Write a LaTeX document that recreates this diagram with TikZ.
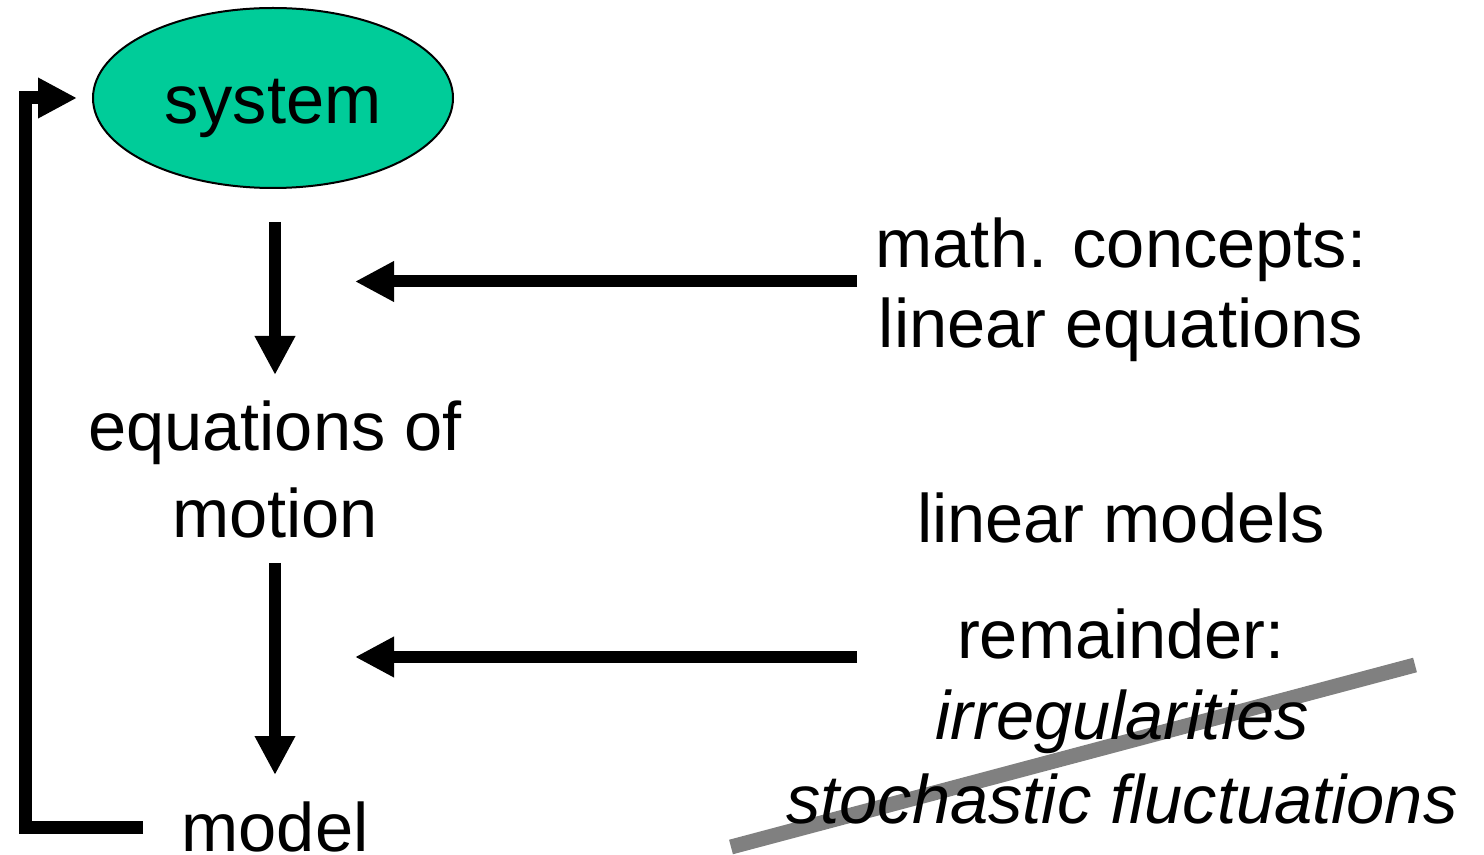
\documentclass[tikz,border=0pt]{standalone}
\usepackage{fontspec}
\setmainfont{Liberation Sans}
\usetikzlibrary{shapes.geometric,arrows.meta}
\definecolor{sysgreen}{RGB}{0,204,153}
\definecolor{strikegray}{RGB}{128,128,128}
\tikzset{
  txt/.style={anchor=base, inner sep=0pt, font=\fontsize{34.3}{40}\selectfont},
  itxt/.style={txt, font=\fontsize{34.3}{40}\selectfont\itshape},
  arr/.style={line width=6pt, -{Triangle[length=19.5pt,width=19pt]}},
  fb/.style={line width=6.5pt, line join=miter, -{Triangle[length=19.5pt,width=19pt]}},
  strike/.style={line width=7.5pt, draw=strikegray}
}
\begin{document}
\begin{tikzpicture}[x=0.5pt,y=-0.5pt]
\useasboundingbox (0,0) rectangle (1484,855);
% strike-through line (behind the texts)
\coordinate (sk1) at (731,847);
\coordinate (sk2) at (1415,665);
\draw[strike] (sk1) -- (sk2);
% system ellipse
\node[ellipse, draw=black, line width=1pt, fill=sysgreen, minimum width=180pt, minimum height=90pt, inner sep=0pt] (sys) at (273,98) {};
\node[txt] (systxt) at (273,124) {system};
% left column texts
\node[txt] (eq1) at (275,451) {equations of};
\node[txt] (eq2) at (275,538) {motion};
\node[txt] (mdl) at (275,851) {model};
% right column texts
\node[txt] (math1) at (1121,268) {math. concepts:};
\node[txt] (math2) at (1121,348) {linear equations};
\node[txt] (lm) at (1121,543) {linear models};
\node[txt] (rem) at (1121,658) {remainder:};
\node[itxt] (irr) at (1122,739) {irregularities};
\node[itxt] (sto) at (1122,823) {stochastic fluctuations};
% arrow coordinates
\coordinate (d1s) at (275,222);
\coordinate (d1e) at (275,375);
\coordinate (d2s) at (275,563);
\coordinate (d2e) at (275,775);
\coordinate (h1s) at (857,281.5);
\coordinate (h1e) at (355,281.5);
\coordinate (h2s) at (857,657);
\coordinate (h2e) at (355,657);
\coordinate (fbs) at (143,827);
\coordinate (fbc1) at (25,827);
\coordinate (fbc2) at (25,98);
\coordinate (fbe) at (77,98);
% arrows
\draw[arr] (d1s) -- (d1e);
\draw[arr] (d2s) -- (d2e);
\draw[arr] (h1s) -- (h1e);
\draw[arr] (h2s) -- (h2e);
\draw[fb] (fbs) -- (fbc1) -- (fbc2) -- (fbe);
\end{tikzpicture}
\end{document}
